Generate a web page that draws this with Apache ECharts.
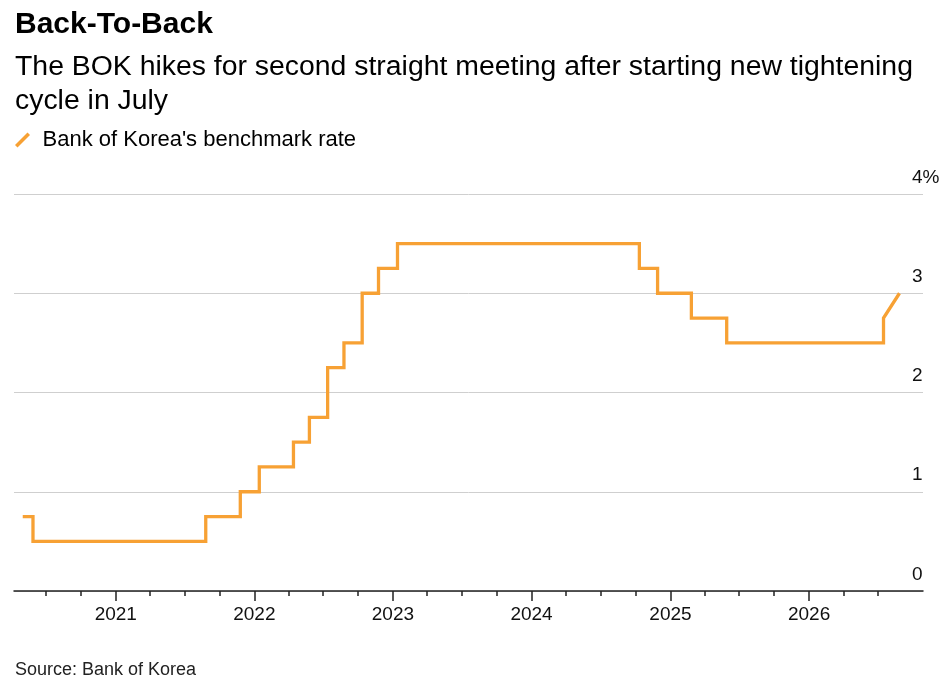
<!DOCTYPE html>
<html>
<head>
<meta charset="utf-8">
<title>Back-To-Back</title>
<script src="https://cdn.jsdelivr.net/npm/echarts@6/dist/echarts.min.js"></script>
<style>
  html, body { margin: 0; padding: 0; background: #fff; }
  #chart { width: 948px; height: 687px; }
</style>
</head>
<body>
<div id="chart"></div>
<script>
// dates where the rate changed, and the new rate from that day
var changeDates = ['2020-05-01', '2020-05-28', '2021-08-26', '2021-11-25', '2022-01-14',
    '2022-04-14', '2022-05-26', '2022-07-13', '2022-08-25', '2022-10-12', '2022-11-24',
    '2023-01-13', '2024-10-11', '2024-11-28', '2025-02-25', '2025-05-29', '2026-07-16',
    '2026-08-27'];
var rates = [0.75, 0.5, 0.75, 1.0, 1.25, 1.5, 1.75, 2.25, 2.5, 3.0, 3.25, 3.5, 3.25, 3.0,
    2.75, 2.5, 2.75, 3.0];

// x axis ticks
var yearTicks = ['2021-01-01', '2022-01-01', '2023-01-01', '2024-01-01', '2025-01-01', '2026-01-01'];
var yearLabels = ['2021', '2022', '2023', '2024', '2025', '2026'];
var quarterTicks = ['2020-07-01', '2020-10-01', '2021-04-01', '2021-07-01', '2021-10-01',
    '2022-04-01', '2022-07-01', '2022-10-01', '2023-04-01', '2023-07-01', '2023-10-01',
    '2024-04-01', '2024-07-01', '2024-10-01', '2025-04-01', '2025-07-01', '2025-10-01',
    '2026-04-01', '2026-07-01'];
var yTicks = [0, 1, 2, 3, 4];

var xMin = '2020-04-08';
var xMax = '2026-10-28';

var FONT = "'Liberation Sans', Arial, sans-serif";
var ORANGE = '#f7a134';

function ts(s) {
    return echarts.time.parse(s).getTime();
}

// step shape: hold the old rate until the change day; the last reading is joined straight
var lineData = [];
for (var i = 0; i < changeDates.length; i++) {
    if (i > 0 && i < changeDates.length - 1) {
        lineData.push([ts(changeDates[i]), rates[i - 1]]);
    }
    lineData.push([ts(changeDates[i]), rates[i]]);
}

var yearTs = yearTicks.map(ts);

var myChart = echarts.init(document.getElementById('chart'));

var option = {
    backgroundColor: '#fff',
    animation: false,
    textStyle: { fontFamily: FONT },
    title: [
        {
            text: 'Back-To-Back',
            left: 15, top: 8, padding: 0,
            textStyle: { fontFamily: FONT, fontSize: 30, fontWeight: 'bold', color: '#000', lineHeight: 34 }
        },
        {
            text: 'The BOK hikes for second straight meeting after starting new tightening\ncycle in July',
            left: 15, top: 50, padding: 0,
            textStyle: { fontFamily: FONT, fontSize: 28.4, fontWeight: 'normal', color: '#000', lineHeight: 34 }
        },
        {
            text: 'Source: Bank of Korea',
            left: 15, top: 660, padding: 0,
            textStyle: { fontFamily: FONT, fontSize: 18, fontWeight: 'normal', color: '#222', lineHeight: 20 }
        }
    ],
    legend: {
        left: 15, top: 129,
        padding: 0,
        itemWidth: 16, itemHeight: 15,
        icon: 'path://M0,12.5 L12.5,0 L15,2.5 L2.5,15 Z',
        textStyle: { fontFamily: FONT, fontSize: 22, color: '#000', padding: [0, 0, 0, 7] },
        data: ["Bank of Korea's benchmark rate"]
    },
    grid: { left: 14, right: 25, top: 194, bottom: 96 },
    xAxis: [
        {
            type: 'value',
            min: ts(xMin), max: ts(xMax),
            axisLine: { show: true, onZero: false, lineStyle: { color: '#222', width: 1.5 } },
            axisTick: {
                show: true, length: 10,
                customValues: yearTs,
                lineStyle: { color: '#222', width: 1.5 }
            },
            axisLabel: {
                customValues: yearTs,
                margin: 14,
                fontFamily: FONT, fontSize: 19, color: '#111',
                formatter: function (v) {
                    var k = yearTs.indexOf(v);
                    return k >= 0 ? yearLabels[k] : '';
                }
            },
            splitLine: { show: false }
        },
        {
            type: 'value',
            position: 'bottom',
            min: ts(xMin), max: ts(xMax),
            axisLine: { show: false, onZero: false },
            axisTick: {
                show: true, length: 5,
                customValues: quarterTicks.map(ts),
                lineStyle: { color: '#222', width: 1.5 }
            },
            axisLabel: { show: false },
            splitLine: { show: false }
        }
    ],
    yAxis: {
        type: 'value',
        position: 'right',
        min: yTicks[0], max: yTicks[yTicks.length - 1], interval: 1,
        axisLine: { show: false },
        axisTick: { show: false },
        splitLine: { show: true, lineStyle: { color: '#cfcfcf', width: 1 } },
        axisLabel: {
            margin: -11,
            align: 'left',
            verticalAlign: 'bottom',
            padding: [0, 0, 7, 0],
            fontFamily: FONT, fontSize: 19, color: '#111',
            formatter: function (v) {
                return v === yTicks[yTicks.length - 1] ? v + '%' : String(v);
            }
        }
    },
    series: [
        {
            name: "Bank of Korea's benchmark rate",
            type: 'line',
            xAxisIndex: 0,
            data: lineData,
            showSymbol: false,
            symbol: 'none',
            color: ORANGE,
            lineStyle: { color: ORANGE, width: 3.3, cap: 'butt', join: 'miter' },
            emphasis: { disabled: true }
        }
    ]
};

myChart.setOption(option);
window.addEventListener('resize', function () {
    myChart.resize();
});
</script>
</body>
</html>
